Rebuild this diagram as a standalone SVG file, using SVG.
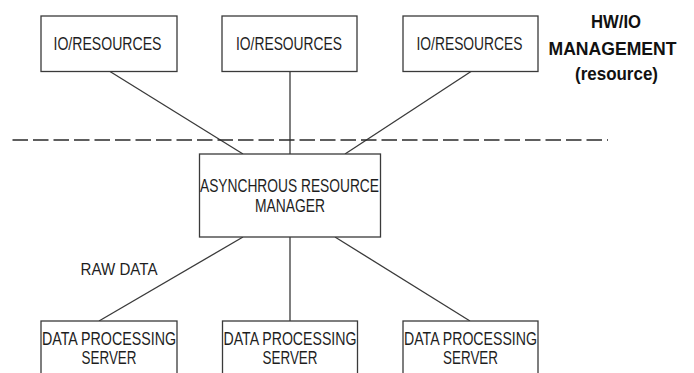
<svg xmlns="http://www.w3.org/2000/svg" width="694" height="373" viewBox="0 0 694 373">
<style>
.box{fill:#fff;stroke:#3a3a3a;stroke-width:1.3}
.ln{stroke:#3a3a3a;stroke-width:1.3;fill:none}
.dash{stroke:#2a2a2a;stroke-width:1.3;stroke-dasharray:15.5 5;fill:none}
.t{font-family:"Liberation Sans",Arial,sans-serif;font-size:17.5px;fill:#1e1e1e;text-anchor:middle}
.h{font-family:"Liberation Sans",Arial,sans-serif;font-size:18.5px;font-weight:bold;fill:#111;text-anchor:middle}
</style>
<rect width="694" height="373" fill="#fff"/>
<g id="connectors">
<line class="ln" x1="110" y1="71.5" x2="243" y2="154"/>
<line class="ln" x1="290" y1="71.5" x2="290" y2="154"/>
<line class="ln" x1="471" y1="71.5" x2="345" y2="154"/>
<line class="ln" x1="243" y1="237" x2="99" y2="321"/>
<line class="ln" x1="290" y1="237" x2="290" y2="321"/>
<line class="ln" x1="335" y1="237" x2="470" y2="321"/>
</g>
<g id="separator">
<line class="dash" x1="12.5" y1="140" x2="608" y2="140"/>
</g>
<g id="io1">
<rect class="box" x="41" y="16" width="136" height="55.5"/>
<text class="t" x="107.5" y="49.5" textLength="108" lengthAdjust="spacingAndGlyphs">IO/RESOURCES</text>
</g>
<g id="io2">
<rect class="box" x="222" y="16" width="135" height="55.5"/>
<text class="t" x="289" y="49.5" textLength="106" lengthAdjust="spacingAndGlyphs">IO/RESOURCES</text>
</g>
<g id="io3">
<rect class="box" x="403" y="16" width="135" height="55.5"/>
<text class="t" x="469.5" y="49.5" textLength="106" lengthAdjust="spacingAndGlyphs">IO/RESOURCES</text>
</g>
<g id="hwio-label">
<text class="h" x="616" y="28.3" textLength="50" lengthAdjust="spacingAndGlyphs">HW/IO</text>
<text class="h" x="612.5" y="55" textLength="128" lengthAdjust="spacingAndGlyphs">MANAGEMENT</text>
<text class="h" x="616.5" y="80" textLength="83" lengthAdjust="spacingAndGlyphs">(resource)</text>
</g>
<g id="manager">
<rect class="box" x="199.5" y="154" width="181" height="83"/>
<text class="t" x="289.5" y="192.3" textLength="179" lengthAdjust="spacingAndGlyphs">ASYNCHROUS RESOURCE</text>
<text class="t" x="290" y="211.7" textLength="70" lengthAdjust="spacingAndGlyphs">MANAGER</text>
</g>
<g id="raw-data-label">
<text class="t" x="119" y="275" textLength="77" lengthAdjust="spacingAndGlyphs" style="font-size:16.5px">RAW DATA</text>
</g>
<g id="dp1">
<rect class="box" x="41" y="321" width="136" height="60"/>
<text class="t" x="109" y="344.5" textLength="134" lengthAdjust="spacingAndGlyphs">DATA PROCESSING</text>
<text class="t" x="109" y="364.3" textLength="55" lengthAdjust="spacingAndGlyphs">SERVER</text>
</g>
<g id="dp2">
<rect class="box" x="222.5" y="321" width="135" height="60"/>
<text class="t" x="290" y="344.5" textLength="133" lengthAdjust="spacingAndGlyphs">DATA PROCESSING</text>
<text class="t" x="290" y="364.3" textLength="55" lengthAdjust="spacingAndGlyphs">SERVER</text>
</g>
<g id="dp3">
<rect class="box" x="403" y="321" width="135" height="60"/>
<text class="t" x="470.5" y="344.5" textLength="133" lengthAdjust="spacingAndGlyphs">DATA PROCESSING</text>
<text class="t" x="470.5" y="364.3" textLength="55" lengthAdjust="spacingAndGlyphs">SERVER</text>
</g>
</svg>
